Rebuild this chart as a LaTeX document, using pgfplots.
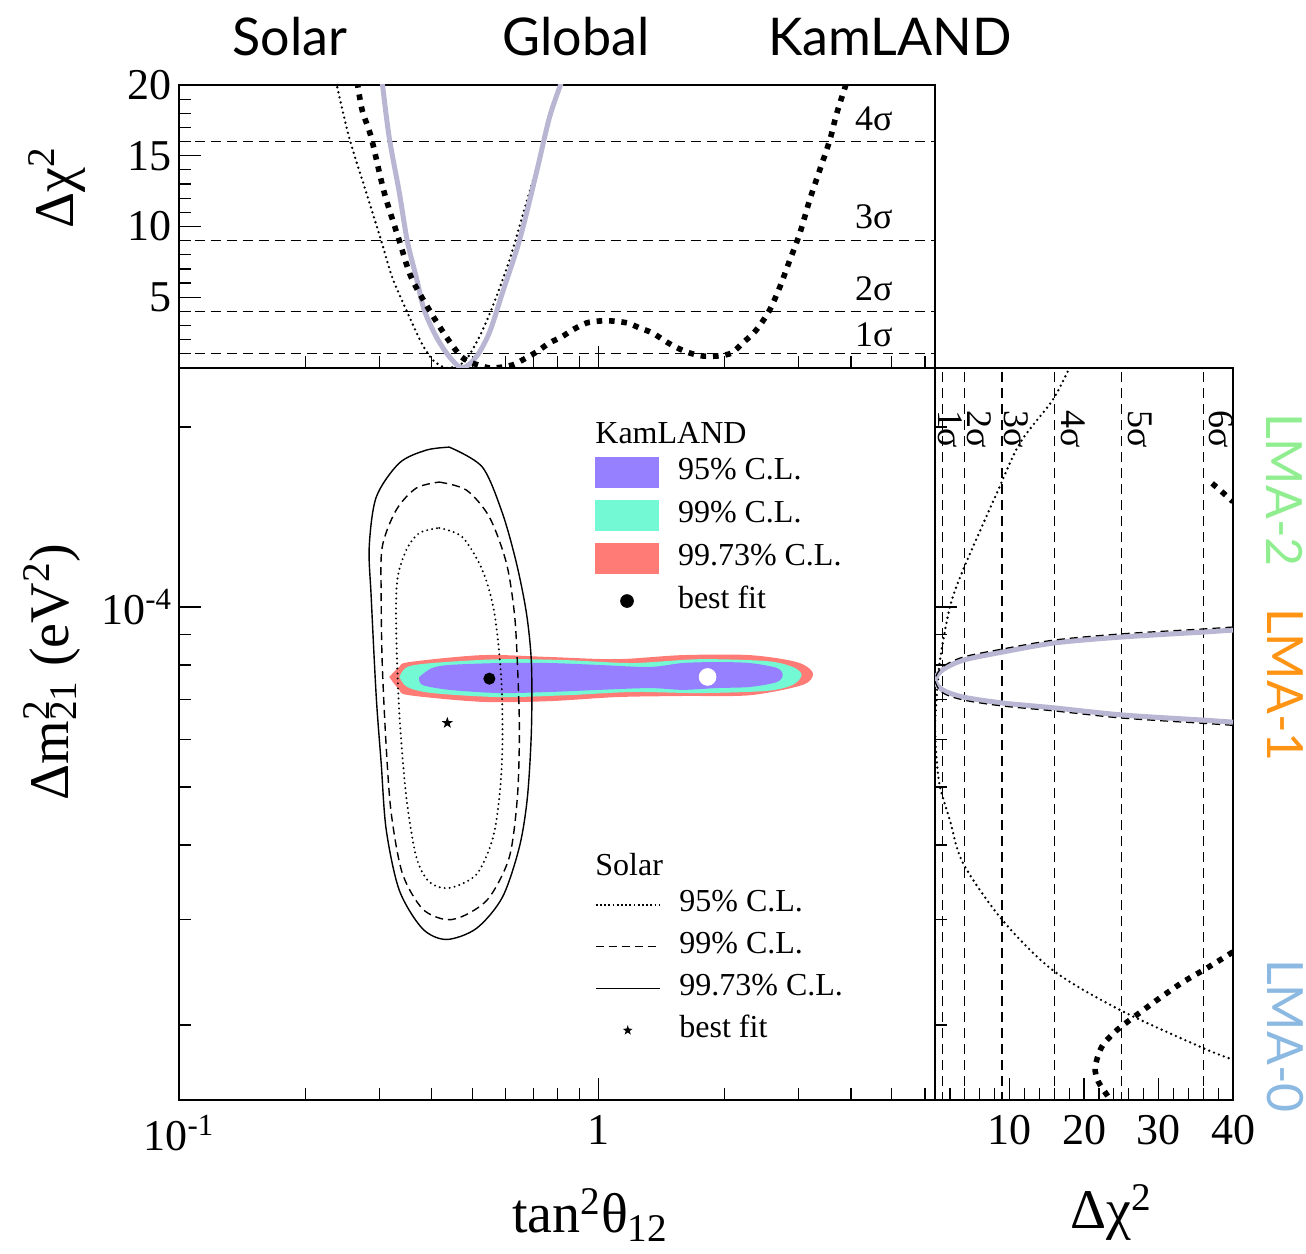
\documentclass[border=0pt]{standalone}
\usepackage{pgfplots}
\pgfplotsset{compat=1.18}
\usepackage{fontspec}
\setmainfont{Liberation Serif}
\newfontfamily\sansf{Lato}
\usetikzlibrary{plotmarks}

\definecolor{kpurple}{RGB}{150,128,255}
\definecolor{kcyan}{RGB}{115,250,213}
\definecolor{kred}{RGB}{255,124,118}
\definecolor{gglob}{RGB}{184,182,210}
\definecolor{lmatwo}{RGB}{144,238,144}
\definecolor{lmaone}{RGB}{255,148,20}
\definecolor{lmazero}{RGB}{140,185,225}

\pgfdeclareplotmark{fstar}{%
 \pgfpathmoveto{\pgfpointpolar{90}{\pgfplotmarksize}}%
 \pgfpathlineto{\pgfpointpolar{126}{0.4\pgfplotmarksize}}%
 \pgfpathlineto{\pgfpointpolar{162}{\pgfplotmarksize}}%
 \pgfpathlineto{\pgfpointpolar{198}{0.4\pgfplotmarksize}}%
 \pgfpathlineto{\pgfpointpolar{234}{\pgfplotmarksize}}%
 \pgfpathlineto{\pgfpointpolar{270}{0.4\pgfplotmarksize}}%
 \pgfpathlineto{\pgfpointpolar{306}{\pgfplotmarksize}}%
 \pgfpathlineto{\pgfpointpolar{342}{0.4\pgfplotmarksize}}%
 \pgfpathlineto{\pgfpointpolar{18}{\pgfplotmarksize}}%
 \pgfpathlineto{\pgfpointpolar{54}{0.4\pgfplotmarksize}}%
 \pgfpathclose\pgfusepathqfill}

\newcommand{\fsz}[1]{\fontsize{#1}{#1}\selectfont}

\pgfplotsset{
  myaxis/.style={scale only axis, axis line style={line width=0.7pt},
    every tick/.style={black, line width=0.6pt}, major tick length=11pt, minor tick length=6pt,
    tick label style={font=\fsz{22}}, tick align=inside},
  kdot/.style={black, line width=2.8pt, dash pattern=on 2.8pt off 3.4pt},
  sdot/.style={black, line width=1.3pt, line cap=round, dash pattern=on 0pt off 2.6pt},
  sigline/.style={black, line width=0.6pt, dash pattern=on 5pt off 3pt},
  cdash/.style={black, line width=0.7pt, dash pattern=on 4pt off 2.5pt},
  cdot/.style={black, line width=1.1pt, line cap=round, dash pattern=on 0pt off 2.5pt},
  csolid/.style={black, line width=0.7pt},
  swatch/.style={legend image code/.code={\fill[##1] (0pt,-7.75pt) rectangle (32pt,7.75pt);}},
  lineimg/.style={legend image code/.code={\draw[##1] (0pt,0pt) -- (32pt,0pt);}},
  dotimg/.style={legend image code/.code={\fill[black] (16pt,0pt) circle (3.2pt);}},
  starimg/.style={legend image code/.code={\path[fill=black] plot[mark=fstar, mark size=2.6pt] coordinates {(16pt,0pt)};}},
  mylegend/.style={legend style={draw=none, fill=none, anchor=north west, font=\fsz{16},
    row sep=#1, column sep=9.5pt, inner sep=0pt, outer sep=0pt,
    nodes={inner sep=0pt, text height=11pt, text depth=4pt, anchor=west}}, legend cell align=left},
}

\begin{document}
\begin{tikzpicture}
\useasboundingbox (-89.5pt,-76.5pt) rectangle (563.5pt,550pt);

% ---------------- main panel ----------------
\begin{axis}[myaxis, at={(0pt,0pt)}, anchor=south west, width=378pt, height=366pt,
  xmode=log, ymode=log, xmin=0.1, xmax=6.34, ymin=1.498e-5, ymax=2.51e-4,
  xtick={0.1,1}, xticklabels={10\textsuperscript{-1},1},
  minor xtick={0.2,0.3,0.4,0.5,0.6,0.7,0.8,0.9,2,3,4,5,6},
  ytick={1e-4}, yticklabels={10\textsuperscript{-4}},
  minor ytick={2e-5,3e-5,4e-5,5e-5,6e-5,7e-5,8e-5,9e-5,2e-4},
  xtick pos=left, ytick pos=left,
  xticklabel style={yshift=-4pt},
  xlabel={tan\textsuperscript{2}θ\textsubscript{12}},
  ylabel={Δm\rlap{\textsuperscript{2}}\textsubscript{21} (eV\textsuperscript{2})},
  xlabel style={at={(axis description cs:0.5437,-0.157)}, anchor=center, font=\fsz{28}},
  ylabel style={at={(axis description cs:-0.168,0.5847)}, anchor=center, font=\fsz{28}},
  mylegend=6pt, legend style={at={(0.5503,0.8784)}},
]
% KamLAND 99.73%
\addplot[fill=kred, draw=none, smooth, forget plot] coordinates {
(0.3170,7.64e-5) (0.3351,7.94e-5) (0.354,8.09e-5) (0.5286,8.31e-5) (0.7640,8.25e-5)
(1.104,8.18e-5) (1.587,8.31e-5) (2.293,8.31e-5) (2.969,8.09e-5) (3.242,7.76e-5)
(3.068,7.41e-5) (2.293,7.12e-5) (1.587,7.10e-5) (1.104,7.07e-5) (0.7640,6.96e-5)
(0.5286,6.94e-5) (0.354,7.12e-5) (0.3351,7.27e-5) (0.3170,7.64e-5)} -- cycle;
% KamLAND 99%
\addplot[fill=kcyan, draw=none, smooth, forget plot] coordinates {
(0.3351,7.64e-5) (0.3500,7.94e-5) (0.4016,8.06e-5) (0.5804,8.18e-5) (0.8386,8.15e-5)
(1.205,8.06e-5) (1.742,8.18e-5) (2.518,8.12e-5) (2.904,7.94e-5) (3.051,7.70e-5)
(2.904,7.41e-5) (2.518,7.24e-5) (1.742,7.18e-5) (1.205,7.21e-5) (0.8386,7.12e-5)
(0.5804,7.07e-5) (0.4016,7.18e-5) (0.3500,7.35e-5) (0.3351,7.64e-5)} -- cycle;
% KamLAND 95%
\addplot[fill=kpurple, draw=none, smooth, forget plot] coordinates {
(0.3740,7.64e-5) (0.4000,7.90e-5) (0.4410,8.00e-5) (0.5804,8.06e-5) (0.7640,8.06e-5)
(1.0055,8.00e-5) (1.323,7.94e-5) (1.587,8.06e-5) (1.912,8.09e-5) (2.293,8.06e-5)
(2.660,7.91e-5) (2.749,7.70e-5) (2.660,7.49e-5) (2.293,7.35e-5) (1.912,7.32e-5)
(1.587,7.27e-5) (1.323,7.32e-5) (1.0055,7.27e-5) (0.7640,7.21e-5) (0.5804,7.18e-5)
(0.4410,7.27e-5) (0.3802,7.41e-5) (0.3740,7.64e-5)} -- cycle;
% Solar 99.73%
\addplot[csolid, smooth, forget plot] coordinates {
(0.4410,1.851e-4) (0.5286,1.714e-4) (0.5900,1.436e-4) (0.6372,1.185e-4) (0.6733,9.77e-5)
(0.6920,8.06e-5) (0.6920,6.23e-5) (0.6770,4.81e-5) (0.6478,3.97e-5) (0.5900,3.27e-5)
(0.5115,2.90e-5) (0.4337,2.78e-5) (0.3802,2.90e-5) (0.3351,3.36e-5) (0.3119,4.24e-5)
(0.3034,5.48e-5) (0.2953,7.07e-5) (0.2872,1.039e-4) (0.2841,1.260e-4) (0.2953,1.527e-4)
(0.3351,1.741e-4) (0.3886,1.830e-4) (0.4410,1.851e-4)};
% Solar 99%
\addplot[cdash, smooth, forget plot] coordinates {
(0.4174,1.618e-4) (0.4842,1.569e-4) (0.5494,1.414e-4) (0.6031,1.185e-4) (0.6302,9.77e-5)
(0.6407,8.06e-5) (0.6478,6.23e-5) (0.6407,4.81e-5) (0.6131,3.82e-5) (0.5494,3.27e-5)
(0.4842,3.06e-5) (0.4337,3.00e-5) (0.3802,3.13e-5) (0.3406,3.59e-5) (0.3206,4.52e-5)
(0.3119,5.83e-5) (0.3051,8.06e-5) (0.3034,1.039e-4) (0.3051,1.260e-4) (0.3295,1.453e-4)
(0.3679,1.581e-4) (0.4174,1.618e-4)};
% Solar 95%
\addplot[cdot, smooth, forget plot] coordinates {
(0.4174,1.356e-4) (0.4736,1.309e-4) (0.5286,1.153e-4) (0.5647,9.77e-5) (0.5868,7.55e-5)
(0.5900,5.83e-5) (0.5804,4.81e-5) (0.5585,4.08e-5) (0.5115,3.57e-5) (0.4410,3.39e-5)
(0.3951,3.47e-5) (0.3679,3.82e-5) (0.3482,4.81e-5) (0.3351,6.65e-5) (0.3295,9.15e-5)
(0.3314,1.110e-4) (0.3482,1.245e-4) (0.3740,1.330e-4) (0.4174,1.356e-4)};
% best fits
\addplot[only marks, mark=*, mark size=2.8pt, black, forget plot] coordinates {(0.5494,7.59e-5)};
\addplot[only marks, mark=*, mark size=4.2pt, white, mark options={draw=none, fill=white}, forget plot] coordinates {(1.820,7.64e-5)};
\addplot[only marks, mark=fstar, mark size=3pt, black, mark options={fill=black}, forget plot] coordinates {(0.4361,6.40e-5)};
% KamLAND legend
\addlegendimage{swatch, fill=kpurple, draw=none}
\addlegendentry{95\% C.L.}
\addlegendimage{swatch, fill=kcyan, draw=none}
\addlegendentry{99\% C.L.}
\addlegendimage{swatch, fill=kred, draw=none}
\addlegendentry{99.73\% C.L.}
\addlegendimage{dotimg}
\addlegendentry{best fit}
\node[anchor=base west, font=\fsz{16}, inner sep=0pt] at (rel axis cs:0.5503,0.8975) {KamLAND};
\node[anchor=base west, font=\fsz{16}, inner sep=0pt] at (rel axis cs:0.5503,0.3074) {Solar};
\end{axis}

% ---------------- solar legend (overlay) ----------------
\begin{axis}[at={(0pt,0pt)}, anchor=south west, scale only axis, width=378pt, height=366pt,
  hide axis, xmin=0, xmax=1, ymin=0, ymax=1,
  mylegend=5.9pt, legend style={at={(0.5503,0.2869)}}]
\addlegendimage{lineimg, black, line width=0.7pt, dash pattern=on 0.9pt off 1.2pt}
\addlegendentry{95\% C.L.}
\addlegendimage{lineimg, cdash}
\addlegendentry{99\% C.L.}
\addlegendimage{lineimg, csolid}
\addlegendentry{99.73\% C.L.}
\addlegendimage{starimg}
\addlegendentry{best fit}
\end{axis}

% ---------------- top panel ----------------
\begin{axis}[myaxis, at={(0pt,366pt)}, anchor=south west, width=378pt, height=141.5pt,
  xmode=log, xmin=0.1, xmax=6.34, ymin=0, ymax=20,
  xtick={1}, xticklabels={}, minor xtick={0.2,0.3,0.4,0.5,0.6,0.7,0.8,0.9,2,3,4,5,6},
  ytick={5,10,15,20}, yticklabels={5,10,15,20},
  minor ytick={1,2,3,4,6,7,8,9,11,12,13,14,16,17,18,19},
  xtick pos=left, ytick pos=left,
  ylabel={Δχ\textsuperscript{2}},
  ylabel style={at={(axis description cs:-0.1614,0.636)}, anchor=center, font=\fsz{28}},
]
\addplot[sigline] coordinates {(0.1,1) (6.34,1)};
\addplot[sigline] coordinates {(0.1,4) (6.34,4)};
\addplot[sigline] coordinates {(0.1,9) (6.34,9)};
\addplot[sigline] coordinates {(0.1,16) (6.34,16)};
% Solar
\addplot[sdot, smooth] coordinates {
(0.2369,20.2) (0.2544,16.3) (0.2795,12.4) (0.3034,9.0) (0.3224,6.4) (0.3482,4.1)
(0.3781,1.8) (0.4016,0.6) (0.4243,0.1) (0.4361,0.0) (0.4600,0.15) (0.4842,0.6)
(0.5200,2.2) (0.5585,4.3) (0.6131,7.6) (0.6733,11.7) (0.7350,15.5) (0.8070,20.2)};
% Global
\addplot[gglob, line width=2.5pt, smooth] coordinates {
(0.3051,20.2) (0.3170,16.3) (0.3351,12.4) (0.3500,9.0) (0.3679,6.4) (0.3843,4.1)
(0.4106,2.2) (0.4410,0.8) (0.4736,0.0) (0.5115,0.8) (0.5494,2.5) (0.5900,5.3)
(0.6478,9.0) (0.7112,13.8) (0.7640,17.7) (0.8162,20.2)};
% KamLAND
\addplot[kdot, smooth] coordinates {
(0.2660,20.2) (0.2734,18.2) (0.2872,16.3) (0.3085,12.4) (0.3351,9.0) (0.3578,6.4)
(0.3951,4.1) (0.4337,2.2) (0.4710,0.8) (0.5059,0.3) (0.5494,0.0) (0.5741,0.02)
(0.6234,0.21) (0.6659,0.64) (0.7112,1.13) (0.7640,1.77) (0.8162,2.19) (0.8671,2.69)
(0.9362,3.18) (1.0055,3.32) (1.080,3.32) (1.173,3.18) (1.253,2.83) (1.346,2.47)
(1.453,1.84) (1.544,1.41) (1.649,1.06) (1.771,0.85) (1.923,0.85) (2.077,1.06)
(2.207,1.77) (2.331,2.4) (2.422,3.0) (2.559,4.1) (2.704,5.7) (2.856,7.6) (3.018,9.5)
(3.189,11.9) (3.369,14.0) (3.559,16.1) (3.698,18.0) (3.907,20.2)};
\node[font=\fsz{18}] at (axis cs:4.53,17.6) {4σ};
\node[font=\fsz{18}] at (axis cs:4.53,10.7) {3σ};
\node[font=\fsz{18}] at (axis cs:4.53,5.6) {2σ};
\node[font=\fsz{18}] at (axis cs:4.53,2.33) {1σ};
\end{axis}

% ---------------- right panel ----------------
\begin{axis}[myaxis, at={(378pt,0pt)}, anchor=south west, width=149pt, height=366pt,
  ymode=log, xmin=0, xmax=40, ymin=1.498e-5, ymax=2.51e-4,
  xtick={10,20,30,40}, xticklabels={10,20,30,40},
  minor xtick={2,4,6,8,12,14,16,18,22,24,26,28,32,34,36,38},
  ytick={1e-4}, yticklabels={},
  minor ytick={2e-5,3e-5,4e-5,5e-5,6e-5,7e-5,8e-5,9e-5,2e-4},
  xtick pos=left, ytick pos=left,
  xticklabel style={yshift=-4pt},
  xlabel={Δχ\textsuperscript{2}},
  xlabel style={at={(axis description cs:0.5906,-0.153)}, anchor=center, font=\fsz{28}},
]
\addplot[sigline] coordinates {(1,1.4e-5) (1,2.6e-4)};
\addplot[sigline] coordinates {(4,1.4e-5) (4,2.6e-4)};
\addplot[sigline] coordinates {(9,1.4e-5) (9,2.6e-4)};
\addplot[sigline] coordinates {(16,1.4e-5) (16,2.6e-4)};
\addplot[sigline] coordinates {(25,1.4e-5) (25,2.6e-4)};
\addplot[sigline] coordinates {(36,1.4e-5) (36,2.6e-4)};
% Solar
\addplot[sdot, smooth] coordinates {
(18.1,2.52e-4) (15.8,2.22e-4) (11.4,1.88e-4) (8.3,1.551e-4) (3.76,1.153e-4) (2.0,1.0e-4)
(0.67,8.15e-5) (0.2,7.0e-5) (0,6.3e-5) (0.2,5.6e-5) (0.67,5.0e-5) (2.0,4.40e-5)
(3.76,3.73e-5) (9.0,3.0e-5) (15.8,2.47e-5) (24.8,2.12e-5) (36.0,1.83e-5) (40,1.75e-5)};
% Global
\addplot[gglob, line width=2.5pt, smooth] coordinates {
(40,6.42e-5) (36,6.47e-5) (25.1,6.60e-5) (16.1,6.78e-5) (9.1,6.91e-5) (3.8,7.07e-5)
(1.0,7.27e-5) (0,7.55e-5) (1.0,7.85e-5) (3.8,8.15e-5) (9.1,8.41e-5) (16.1,8.71e-5)
(25.1,8.91e-5) (36,9.08e-5) (40,9.15e-5)};
\addplot[cdash, line width=0.6pt, smooth] coordinates {
(40,6.34e-5) (36,6.39e-5) (25.1,6.52e-5) (16.1,6.70e-5) (9.1,6.83e-5) (3.8,6.99e-5)
(1.0,7.19e-5) (0,7.55e-5) (1.0,7.94e-5) (3.8,8.25e-5) (9.1,8.51e-5) (16.1,8.81e-5)
(25.1,9.02e-5) (36,9.19e-5) (40,9.26e-5)};
% KamLAND
\addplot[kdot, smooth] coordinates {(37.2,1.61e-4) (38.6,1.555e-4) (40,1.50e-4)};
\addplot[kdot, smooth] coordinates {
(40,2.65e-5) (36.5,2.49e-5) (33.3,2.36e-5) (30.2,2.22e-5) (27.1,2.08e-5) (24.4,1.96e-5)
(22.4,1.84e-5) (21.5,1.70e-5) (21.9,1.61e-5) (23.2,1.52e-5) (23.6,1.49e-5)};
\node[rotate=-90, font=\fsz{18}] at (axis cs:2.0,1.98e-4) {1σ};
\node[rotate=-90, font=\fsz{18}] at (axis cs:5.9,1.98e-4) {2σ};
\node[rotate=-90, font=\fsz{18}] at (axis cs:10.9,1.98e-4) {3σ};
\node[rotate=-90, font=\fsz{18}] at (axis cs:18.5,1.98e-4) {4σ};
\node[rotate=-90, font=\fsz{18}] at (axis cs:27.5,1.98e-4) {5σ};
\node[rotate=-90, font=\fsz{18}] at (axis cs:38.4,1.98e-4) {6σ};
\end{axis}

% ---------------- titles ----------------
\node[font=\sansf\fsz{26}] at (55.5pt,531.5pt) {Solar};
\node[font=\sansf\fsz{26}] at (198.5pt,531.5pt) {Global};
\node[font=\sansf\fsz{26}] at (355.5pt,531.5pt) {KamLAND};
\node[rotate=-90, font=\sansf\fsz{25}, text=lmatwo] at (553pt,305pt) {LMA-2};
\node[rotate=-90, font=\sansf\fsz{25}, text=lmaone] at (553pt,207.5pt) {LMA-1};
\node[rotate=-90, font=\sansf\fsz{25}, text=lmazero] at (553pt,32pt) {LMA-0};
\end{tikzpicture}
\end{document}
